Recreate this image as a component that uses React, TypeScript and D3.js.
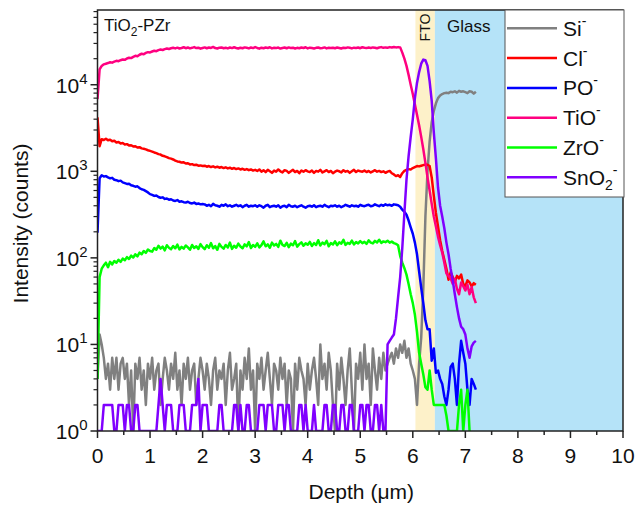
import React from 'react';
import * as d3 from 'd3';

// Depth-profile sampling: one value every depthStep µm, starting at 0
const depthStep = 0.04;

const siCounts = [
  4, 13, 10, 7, 4, 6, 3, 7, 4, 7, 3, 6, 7, 4, 6, 2, 5, 1, 6, 4, 7, 3, 5, 2, 6, 4,
  7, 3, 5, 6, 2, 4, 7, 5, 3, 6, 4, 8, 3, 5, 2, 6, 4, 7, 3, 5, 6, 2, 4, 7, 5,
  3, 6, 4, 2, 5, 7, 3, 5, 4, 6, 2, 5, 8, 3, 4, 6, 1, 5, 3, 7, 4, 9, 3, 5, 1,
  6, 4, 7, 3, 5, 8, 4, 2, 6, 5, 3, 7, 4, 6, 2, 5, 4, 1, 6, 3, 7, 5, 4, 2, 6,
  3, 5, 7, 4, 2, 10, 4, 6, 3, 8, 5, 2, 1, 6, 3, 7, 4, 2, 5, 9, 3, 1, 6, 4, 8,
  3, 10, 4, 6, 2, 9, 5, 3, 7, 4, 8, 5,
  6, 7, 8, 6, 9, 7, 10, 8, 11, 7, 9, 6, 5, 4, 2, 6, 12, 45, 300, 1000, 2200, 3700,
  5000, 6100, 7000, 7500, 7800, 8000, 8100, 8000, 8300, 8200, 8400, 8100, 8500,
  8300, 8400, 8200, 8000, 8400, 8300, 7900, 8300,
];

const clCounts = [
  4200, 1950, 2350, 2300, 2380, 2280, 2320, 2220, 2250, 2150, 2180, 2100, 2120,
  2040, 2060, 1990, 2000, 1940, 1950, 1880, 1900, 1840, 1820, 1790, 1750, 1720,
  1690, 1650, 1620, 1580, 1560, 1510, 1490, 1460, 1420, 1400, 1370, 1330, 1300,
  1290, 1260, 1270, 1230, 1240, 1200, 1210, 1180, 1190, 1160, 1170, 1150,
  1160, 1130, 1150, 1120, 1140, 1110, 1130, 1100, 1120, 1090, 1110, 1080, 1100,
  1070, 1090, 1060, 1080, 1050, 1070, 1040, 1060, 1030, 1050, 1020, 1040,
  1010, 1050, 990, 1030, 980, 1040, 1000, 960, 1020, 990, 1050, 1000, 970, 1030,
  1010, 960, 1000, 1040, 980, 1010, 950, 1020, 990, 1030, 1000,
  980, 1020, 960, 1010, 990, 1040, 970, 1000, 1030, 980, 1010, 950, 990, 1020,
  1000, 970, 1030, 990, 1010, 960, 1000, 1040, 980, 1020, 1000,
  990, 1020, 980, 1010, 970, 1000, 1030, 990, 1010, 980, 1000, 960, 990, 1010,
  950, 920, 880, 900,
  860, 950, 1010, 1040, 1060, 1050, 1090, 1120, 1150, 1140, 1160, 1180, 1200,
  1190, 1150, 850, 520, 330, 230, 160, 120, 95, 75, 56, 68, 60, 53, 62, 58, 64,
  50, 47, 55, 52, 47, 51, 49,
];

const poCounts = [
  195, 830, 900, 870, 880, 850, 830, 840, 800, 790, 770, 780, 745, 730, 715, 720,
  690, 680, 665, 670, 640, 620, 610, 590, 570, 545,
  535, 520, 525, 505, 495, 500, 480, 485, 470, 475, 460, 455, 465, 445, 450, 440,
  435, 445, 430, 425, 435, 420, 425, 415, 420,
  415, 400, 410, 395, 420, 405, 400, 390, 410, 400, 415, 395, 405, 390, 400, 410,
  395, 405, 385, 400, 410, 390, 400, 395, 405,
  390, 405, 395, 380, 400, 410, 385, 395, 400, 390, 405, 380, 395, 400, 385, 410,
  395, 390, 400, 385, 395, 405, 390, 380, 395,
  400, 390, 405, 385, 395, 400, 390, 410, 395, 385, 400, 395, 405, 390, 400, 385,
  395, 410, 400, 390, 405, 395, 400, 390, 410,
  400, 395, 405, 410, 395, 400, 415, 405, 395, 410, 400, 415, 405, 410, 400, 415,
  410, 405,
  390, 360, 340, 315, 270, 225, 190, 150, 110, 70, 45, 30, 19, 15, 15, 6.5, 9,
  4.7, 5, 4, 3.5, 2.5, 2, 3, 5.5, 6, 4, 2, 6, 11, 8, 6, 3, 2, 4, 3.5, 3,
];

const tioCounts = [
  6800, 15000, 16500, 17200, 17500, 17800, 18200, 18000, 18500, 18900, 18700,
  19200, 19600, 19400, 20100, 20500, 20300, 21000, 21600, 21300, 22200, 22800,
  22500, 23300, 23800, 23600,
  24200, 24700, 24400, 25100, 25500, 25200, 25800, 26200, 25900, 26400, 26700,
  26300,
  26800, 26200, 26600, 27100, 26400, 26900, 26300, 26700, 27200, 26500, 26800,
  26100, 26600, 27000, 26400, 26900, 26600, 27300, 26500, 26200, 26800, 27000,
  26400, 26700, 26300,
  26900, 26500, 27100, 26600, 26200, 26800, 26400, 27000, 26700, 26300, 26900,
  26500, 27200, 26600, 26100, 26800, 26400, 26900, 26600, 27100, 26300, 26700,
  26500, 26900, 26200,
  26600, 26900, 26400, 27000, 26500, 26800, 26200, 26700, 26400, 26900, 26600,
  27100, 26300, 26800, 26500, 26200, 26700, 26900, 26400, 26600, 27000, 26300,
  26700, 26500, 26800,
  26400, 26900, 26600, 26200, 26800, 26500, 27000, 26700, 26300, 26800, 26600,
  26900, 26400, 27100, 26700, 26500, 26900, 26600, 27000, 26800, 26400, 26900,
  27200, 26700, 27000,
  26800, 27200, 26900, 27300, 27000, 27200,
  27000, 23500, 20000, 16500, 13000, 10000, 7800, 5900, 4500, 3400, 2500, 1800,
  1250, 850, 600, 420, 300, 230, 175, 140, 115, 88, 66, 62, 58, 50, 57, 44, 38,
  52, 47, 42, 49, 38, 46, 35, 30,
];

const zroCounts = [
  4, 60, 75, 82, 88, 78, 90, 84, 92, 88, 95, 90, 98, 94, 102, 97, 106, 101, 110,
  104, 115, 110, 120, 114, 125, 120,
  118, 130, 124, 138, 128, 135, 122, 140, 131, 126, 137, 129, 142, 125, 134, 128,
  139, 132, 124, 141, 130, 136, 127, 144, 133,
  126, 140, 131, 148, 129, 137, 124, 145, 134, 128, 141, 132, 150, 127, 138, 131,
  146, 135, 129, 143, 136, 152, 130, 141, 134,
  147, 132, 140, 155, 136, 143, 131, 150, 139, 145, 134, 158, 141, 137, 149, 133,
  146, 140, 156, 135, 144, 151, 138, 147, 142,
  153, 137, 148, 141, 160, 139, 150, 144, 157, 136, 148, 143, 155, 140, 151, 146,
  162, 141, 149, 145, 158, 143, 152, 147, 156,
  148, 153, 145, 159, 150, 147, 157, 151, 162, 149, 155, 152, 158, 150, 154, 148,
  145, 140,
  105, 88, 76, 64, 50, 38, 30, 22, 14, 8, 6, 4.5, 3.2, 3, 5, 3, 2, 2, 2, 2, 2, 2,
  1.5, 1, 1, 1, 1, 1, 2, 3, 1, 2, 3, 1,
];

const sno2Counts = [
  1, 1, 1, 2, 2, 2, 2, 2, 1, 1, 2, 2, 2, 1, 2, 2, 1, 1, 2, 2, 1, 1, 1, 1, 1, 1,
  1, 1, 1, 2, 4, 2, 1, 2, 2, 2, 1, 1, 1, 2, 2, 2, 1, 1, 1, 2, 2, 2, 4, 1, 2,
  2, 2, 1, 1, 1, 1, 1, 2, 2, 1, 1, 1, 1, 1, 2, 2, 1, 2, 1, 1, 2, 2, 1, 1, 1,
  1, 2, 2, 2, 1, 2, 2, 2, 1, 1, 2, 2, 2, 1, 2, 2, 1, 1, 1, 1, 2, 2, 1, 2, 1,
  1, 1, 2, 1, 1, 1, 1, 2, 2, 1, 1, 2, 2, 1, 1, 2, 2, 1, 1, 2, 2, 1, 1, 1, 2,
  2, 1, 2, 2, 1, 1, 2, 2, 1, 2, 1, 1,
  10, 11, 12, 13, 20, 35, 60, 130, 330, 800, 1500, 2500, 4000, 7000, 10500,
  14000, 17500, 19500, 19200, 16500, 11000, 6500, 2800, 1400, 650, 400, 300, 220,
  150, 110, 75, 55, 38, 27, 20, 16, 15, 13, 9, 7, 9.5, 10.5, 11,
];

// Layer boundaries (µm)
const ftoRange = [6.05, 6.42];
const glassRange = [6.42, 10];

type Species = { base: string; sub?: string; color: string; values: number[] };

const species: Species[] = [
  { base: 'Si', color: '#808080', values: siCounts },
  { base: 'Cl', color: '#ff0000', values: clCounts },
  { base: 'PO', color: '#0000ff', values: poCounts },
  { base: 'TiO', color: '#ff0080', values: tioCounts },
  { base: 'ZrO', color: '#00ff00', values: zroCounts },
  { base: 'SnO', sub: '2', color: '#8000ff', values: sno2Counts },
];

const xTicks = d3.range(0, 11, 1);
const yMax = 7.3e4;

const font = '"Liberation Sans", Arial, sans-serif';

export default function App() {
  const left = 97.5, right = 623, top = 10, bottom = 431;
  const x = d3.scaleLinear().domain([0, 10]).range([left, right]);
  const y = d3.scaleLog().domain([1, yMax]).range([bottom, top]);

  const line = d3
    .line<number>()
    .defined((v) => v > 0)
    .x((_, i) => x(i * depthStep))
    .y((v) => y(v));

  const yAll = y.ticks();
  const yMajor = yAll.filter((v) => Math.abs(Math.log10(v) - Math.round(Math.log10(v))) < 1e-9);
  const yMinor = yAll.filter((v) => !yMajor.includes(v));
  const xMinor = d3.range(0.5, 10, 1);

  const axisColor = '#222';
  const legendX = 505, legendTop = 10, legendBottom = 197, legendRight = 624;
  const legendRow0 = 28.3, legendGap = 29.8;

  return (
    <svg
      width={636}
      height={506}
      style={{ position: 'absolute', left: 0, top: 0, background: '#fff' }}
      fontFamily={font}
    >
      <defs>
        <clipPath id="plotArea">
          <rect x={left} y={top} width={right - left} height={bottom - top} />
        </clipPath>
      </defs>

      {/* layer bands */}
      <rect x={x(ftoRange[0])} y={top} width={x(ftoRange[1]) - x(ftoRange[0])} height={bottom - top} fill="#fdf1c9" />
      <rect x={x(glassRange[0])} y={top} width={x(glassRange[1]) - x(glassRange[0])} height={bottom - top} fill="#b5e3f8" />

      {/* depth profiles */}
      <g clipPath="url(#plotArea)">
        {species.map((s) => (
          <path
            key={s.base}
            d={line(s.values) || ''}
            fill="none"
            stroke={s.color}
            strokeWidth={2.5}
            strokeLinejoin="round"
          />
        ))}
      </g>

      {/* frame */}
      <rect x={left} y={top} width={right - left} height={bottom - top} fill="none" stroke={axisColor} strokeWidth={1.5} />

      {/* x axis ticks */}
      {xTicks.map((t) => (
        <g key={'xt' + t}>
          <line x1={x(t)} x2={x(t)} y1={bottom} y2={bottom + 7} stroke={axisColor} strokeWidth={1.5} />
          <text x={x(t)} y={bottom + 32} fontSize={21} textAnchor="middle" fill="#111">
            {t}
          </text>
        </g>
      ))}
      {xMinor.map((t) => (
        <line key={'xm' + t} x1={x(t)} x2={x(t)} y1={bottom} y2={bottom + 4} stroke={axisColor} strokeWidth={1.5} />
      ))}

      {/* y axis ticks */}
      {yMajor.map((t) => (
        <g key={'yt' + t}>
          <line x1={left - 7} x2={left} y1={y(t)} y2={y(t)} stroke={axisColor} strokeWidth={1.5} />
          <text x={left - 10} y={y(t) + 8} fontSize={21} textAnchor="end" fill="#111">
            10
            <tspan dy={-9} fontSize={15}>
              {Math.round(Math.log10(t))}
            </tspan>
          </text>
        </g>
      ))}
      {yMinor.map((t) => (
        <line key={'ym' + t} x1={left - 4} x2={left} y1={y(t)} y2={y(t)} stroke={axisColor} strokeWidth={1.2} />
      ))}

      {/* axis titles */}
      <text x={(left + right) / 2 + 1} y={499} fontSize={21} textAnchor="middle" fill="#111">
        Depth (μm)
      </text>
      <text
        transform={`translate(28, ${(top + bottom) / 2 + 3}) rotate(-90)`}
        fontSize={21}
        textAnchor="middle"
        fill="#111"
      >
        Intensity (counts)
      </text>

      {/* annotations */}
      <text x={104} y={31} fontSize={17} fill="#111">
        TiO<tspan dy={5} fontSize={12}>2</tspan>
        <tspan dy={-5}>-PZr</tspan>
      </text>
      <text x={447} y={32} fontSize={17} fill="#111">
        Glass
      </text>
      <text
        transform={`translate(${(x(ftoRange[0]) + x(ftoRange[1])) / 2 + 5}, 27.5) rotate(-90)`}
        fontSize={14}
        textAnchor="middle"
        fill="#111"
      >
        FTO
      </text>

      {/* legend */}
      <rect
        x={legendX}
        y={legendTop}
        width={legendRight - legendX}
        height={legendBottom - legendTop}
        fill="#fff"
        stroke="#555"
        strokeWidth={1}
      />
      {species.map((s, i) => {
        const ly = legendRow0 + i * legendGap;
        return (
          <g key={'lg' + s.base}>
            <line x1={legendX + 2} x2={legendX + 52} y1={ly} y2={ly} stroke={s.color} strokeWidth={2.5} />
            <text x={legendX + 58} y={ly + 7.5} fontSize={21} fill="#111">
              {s.base}
              {s.sub ? (
                <>
                  <tspan dy={5} fontSize={14}>{s.sub}</tspan>
                  <tspan dy={-15} fontSize={14}>-</tspan>
                </>
              ) : (
                <tspan dy={-10} fontSize={14}>-</tspan>
              )}
            </text>
          </g>
        );
      })}
    </svg>
  );
}
